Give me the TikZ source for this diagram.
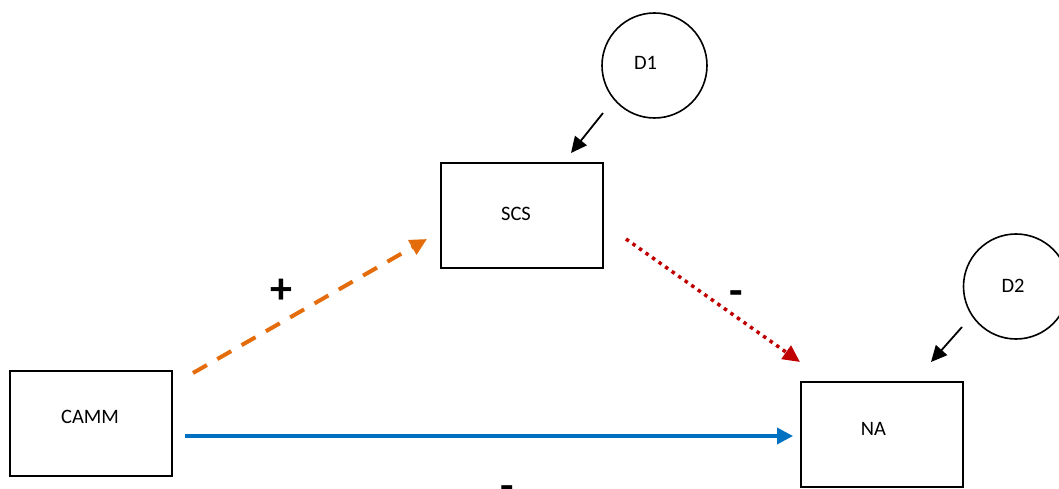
\documentclass[tikz,border=0pt]{standalone}
\usepackage{fontspec}
\setmainfont{Carlito}
\usetikzlibrary{arrows.meta}
\definecolor{orng}{HTML}{E46C0A}
\definecolor{dred}{HTML}{C00000}
\definecolor{mblue}{HTML}{0070C0}
\begin{document}
\begin{tikzpicture}[x=1bp,y=-1bp,
  varbox/.style={draw=black,line width=2bp,rectangle,minimum width=162bp,minimum height=105bp,inner sep=0pt},
  errcirc/.style={draw=black,line width=1.6bp,circle,minimum size=105bp,inner sep=0pt},
  lbl/.style={font=\fontsize{20.5bp}{24bp}\selectfont,inner sep=0pt},
  sign/.style={font=\fontsize{44bp}{48bp}\selectfont\bfseries,inner sep=0pt},
  blk/.style={draw=black,line width=1.8bp,-{Triangle[length=16bp,width=15bp]}},
]
\useasboundingbox (0,0) rectangle (1059,489);
% boxes
\node[varbox] (camm) at (91,423.5) {};
\node[varbox] (scs) at (521.5,216) {};
\node[varbox] (na) at (881.5,434.5) {};
\node[errcirc] (d1) at (654.5,65.5) {};
\node[errcirc] (d2) at (1016,286.5) {};
% texts
\node[lbl] (cammt) at (90,416.5) {CAMM};
\node[lbl] (scst) at (516,214) {SCS};
\node[lbl] (nat) at (873.5,428.7) {NA};
\node[lbl] (d1t) at (645.5,62.5) {D1};
\node[lbl] (d2t) at (1013,286) {D2};
% connector ends
\coordinate (o1) at (193,373);
\coordinate (o2) at (427,239);
\coordinate (r1) at (626,239);
\coordinate (r2) at (800,362);
\coordinate (b1) at (185,436);
\coordinate (b2) at (793,436);
\coordinate (k1) at (603,113);
\coordinate (k2) at (571,153);
\coordinate (m1) at (962,327);
\coordinate (m2) at (931,362);
% connectors
\draw[orng,line width=4bp,dash pattern=on 16bp off 12bp,-{Triangle[length=17bp,width=16bp]}] (o1) -- (o2);
\draw[dred,line width=3.5bp,dash pattern=on 3.5bp off 4.5bp,-{Triangle[length=17bp,width=16bp]}] (r1) -- (r2);
\draw[mblue,line width=3.5bp,-{Triangle[length=16bp,width=16bp]}] (b1) -- (b2);
\draw[blk] (k1) -- (k2);
\draw[blk] (m1) -- (m2);
% signs
\node[sign] (plus) at (281,291) {+};
\node[sign] (minus1) at (736,298.5) {-};
\node[sign] (minus2) at (507,493.5) {-};
\end{tikzpicture}
\end{document}
